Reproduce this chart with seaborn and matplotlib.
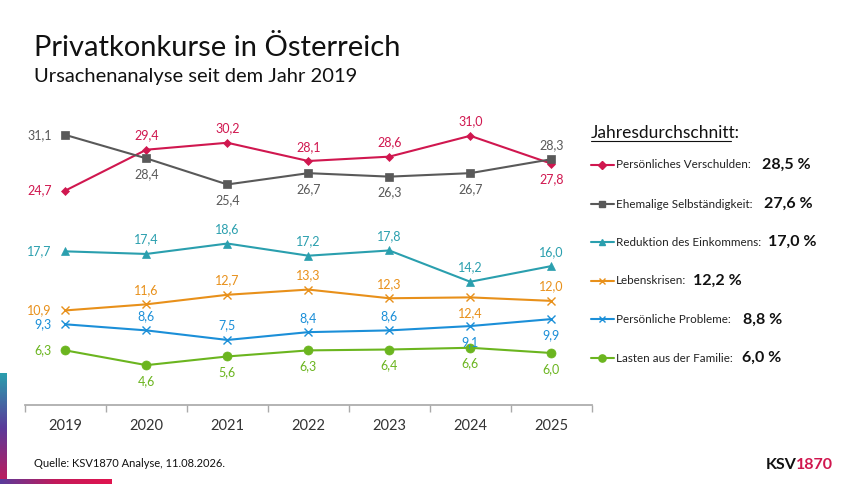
import matplotlib
matplotlib.use("Agg")
import matplotlib.pyplot as plt
import seaborn as sns
import pandas as pd
import numpy as np

years = ["2019", "2020", "2021", "2022", "2023", "2024", "2025"]
verschulden = [24.7, 29.4, 30.2, 28.1, 28.6, 31.0, 27.8]
selbst = [31.1, 28.4, 25.4, 26.7, 26.3, 26.7, 28.3]
einkommen = [17.7, 17.4, 18.6, 17.2, 17.8, 14.2, 16.0]
lebenskrisen = [10.9, 11.6, 12.7, 13.3, 12.3, 12.4, 12.0]
probleme = [9.3, 8.6, 7.5, 8.4, 8.6, 9.1, 9.9]
familie = [6.3, 4.6, 5.6, 6.3, 6.4, 6.6, 6.0]
names = ["Persönliches Verschulden", "Ehemalige Selbständigkeit", "Reduktion des Einkommens",
         "Lebenskrisen", "Persönliche Probleme", "Lasten aus der Familie"]
averages = ["28,5 %", "27,6 %", "17,0 %", "12,2 %", "8,8 %", "6,0 %"]
series = [verschulden, selbst, einkommen, lebenskrisen, probleme, familie]
colors = ["#d0174f", "#595959", "#2a9fae", "#e8901a", "#1b8fd8", "#6bb51f"]
markers = ["D", "s", "^", "x", "x", "o"]
msizes = [4.5, 6, 6, 5.5, 5.5, 6.5]
pos = ["laaaaab", "lbbbbba", "laaaaaa", "laaaaba", "laaaabb", "lbbbbbb"]

sns.set_theme(style="white")
plt.rcParams['font.family'] = ['Lato', 'DejaVu Sans']

fig = plt.figure(figsize=(8.6, 4.84), dpi=100)
ax = fig.add_axes([0.029, 0.163, 0.659, 0.63])

rows = []
for n, s in zip(names, series):
    for y, v in zip(years, s):
        rows.append({"Jahr": y, "Wert": v, "Ursache": n})
df = pd.DataFrame(rows)

for i, n in enumerate(names):
    d = df[df.Ursache == n]
    sns.lineplot(data=d, x="Jahr", y="Wert", ax=ax, color=colors[i], marker=markers[i],
                 markersize=msizes[i], linewidth=1.5, markeredgecolor=colors[i],
                 markeredgewidth=1.0 if markers[i] == "x" else 0.5)
    for j, v in enumerate(series[i]):
        p = pos[i][j]
        txt = f"{v:.1f}".replace(".", ",")
        if p == "l":
            ax.annotate(txt, (j, v), xytext=(-10, 0), textcoords="offset points",
                        ha="right", va="center", color=colors[i], fontsize=9)
        elif p == "a":
            ax.annotate(txt, (j, v), xytext=(0, 6), textcoords="offset points",
                        ha="center", va="bottom", color=colors[i], fontsize=9)
        else:
            ax.annotate(txt, (j, v), xytext=(0, -7), textcoords="offset points",
                        ha="center", va="top", color=colors[i], fontsize=9)

ax.set_xlim(-0.5, 6.5)
ax.set_ylim(0, 35.1)
ax.set_xlabel("")
ax.set_ylabel("")
ax.set_yticks([])
for s in ["top", "right", "left"]:
    ax.spines[s].set_visible(False)
ax.spines["bottom"].set_color("#aaaaaa")
ax.set_xticks(np.arange(-0.5, 7, 1), minor=True)
ax.tick_params(axis="x", which="minor", length=5, color="#aaaaaa", bottom=True)
ax.tick_params(axis="x", which="major", length=0, labelsize=10.5, labelcolor="#333333", pad=10)

fig.text(0.04, 0.885, "Privatkonkurse in Österreich", fontsize=21, color="#111111")
fig.text(0.04, 0.83, "Ursachenanalyse seit dem Jahr 2019", fontsize=14.5, color="#111111")

fig.text(0.687, 0.715, "Jahresdurchschnitt:", fontsize=12.5, color="#111111")
fig.add_artist(plt.Line2D([0.687, 0.85], [0.708, 0.708], color="#111111", lw=0.8))
ys = [0.66, 0.578, 0.5, 0.42, 0.34, 0.26]
lab_x = [0.886, 0.888, 0.893, 0.806, 0.864, 0.863]
for i in range(6):
    fig.add_artist(plt.Line2D([0.687, 0.714], [ys[i], ys[i]], color=colors[i], lw=1.5))
    fig.add_artist(plt.Line2D([0.7005], [ys[i]], color=colors[i], marker=markers[i],
                              markersize=msizes[i] * 0.8, markeredgecolor=colors[i]))
    fig.text(0.716, ys[i], names[i] + ":", fontsize=8.4, va="center", color="#222222")
    fig.text(lab_x[i], ys[i], averages[i], fontsize=11.5, va="center", fontweight="bold",
             color="#111111")

fig.text(0.04, 0.035, "Quelle: KSV1870 Analyse, 11.08.2026.", fontsize=8, color="#111111")
fig.text(0.89, 0.03, "KSV", fontsize=11.5, fontweight="bold", color="#111111")
fig.text(0.925, 0.03, "1870", fontsize=11.5, fontweight="bold", color="#d0174f")

grad = np.linspace(0, 1, 50)
cmapv = matplotlib.colors.LinearSegmentedColormap.from_list("g", ["#2a9fae", "#5b3a9a", "#c21a5a"])
axg = fig.add_axes([0, 0, 0.008, 0.23])
axg.imshow(grad[:, None], aspect="auto", cmap=cmapv, origin="upper")
axg.axis("off")
axh = fig.add_axes([0, 0, 0.13, 0.01])
axh.imshow(grad[None, :], aspect="auto",
           cmap=matplotlib.colors.LinearSegmentedColormap.from_list("h", ["#5b3a9a", "#c21a5a", "#e0144f"]))
axh.axis("off")

fig.savefig("out.png", dpi=100)
